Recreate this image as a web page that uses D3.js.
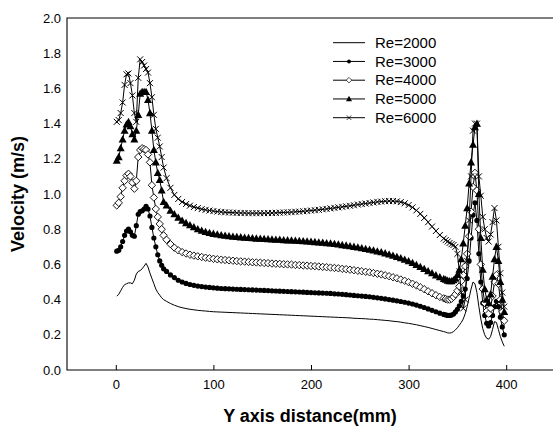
<!DOCTYPE html>
<html><head><meta charset="utf-8">
<script src="https://cdn.jsdelivr.net/npm/d3@7"></script>
<style>body{margin:0;background:#fff}svg{display:block}text{font-family:"Liberation Sans",Arial,sans-serif}</style>
</head><body><svg id="c" width="553" height="426"></svg>
<script>
const xs = [
1,3,5,7,9,11,13,15,17,19,
21,23,25,27,29,31,33,35,37,39,
41,43,45,47,49,
52,56,60,64,68,72,76,80,84,88,
92,96,100,104,108,112,116,120,124,128,
132,136,140,144,148,152,156,160,164,168,
172,176,180,184,188,192,196,200,204,208,
212,216,220,224,228,232,236,240,244,248,
252,256,260,264,268,272,276,280,284,288,
292,296,300,304,308,312,316,320,324,328,332,336,
338,340,342,344,346,348,350,352,354,356,
358,360,362,364,366,368,370,372,374,376,
378,380,382,384,386,388,390,392,394,396,
398];
const re2000 = [
0.42,0.43,0.45,0.47,0.485,0.49,0.495,0.495,0.49,0.51,
0.545,0.56,0.565,0.575,0.59,0.606,0.585,0.55,0.52,0.49,
0.46,0.44,0.425,0.41,0.40,
0.39,0.378,0.368,0.36,0.354,0.349,0.345,0.342,0.339,0.337,
0.335,0.333,0.331,0.33,0.329,0.328,0.327,0.326,0.325,0.324,
0.323,0.322,0.321,0.32,0.319,0.318,0.317,0.316,0.315,0.314,
0.313,0.312,0.311,0.31,0.309,0.308,0.307,0.306,0.305,0.304,
0.303,0.302,0.301,0.3,0.299,0.298,0.297,0.296,0.294,0.293,
0.292,0.291,0.289,0.288,0.286,0.284,0.282,0.28,0.277,0.275,
0.272,0.268,0.265,0.261,0.257,0.252,0.247,0.242,0.236,0.23,0.224,0.218,
0.215,0.211,0.21,0.212,0.218,0.228,0.24,0.255,0.27,0.29,
0.32,0.36,0.41,0.46,0.50,0.49,0.44,0.36,0.29,0.235,
0.2,0.18,0.175,0.19,0.23,0.275,0.27,0.23,0.19,0.16,
0.135];
const re3000 = [
0.675,0.68,0.70,0.73,0.765,0.79,0.80,0.785,0.765,0.76,
0.82,0.885,0.90,0.905,0.915,0.93,0.915,0.875,0.81,0.75,
0.70,0.655,0.62,0.595,0.575,
0.56,0.54,0.525,0.51,0.50,0.492,0.486,0.481,0.477,0.474,
0.471,0.469,0.467,0.465,0.463,0.462,0.461,0.46,0.459,0.458,
0.457,0.456,0.455,0.454,0.453,0.452,0.451,0.45,0.449,0.448,
0.447,0.446,0.445,0.444,0.443,0.442,0.441,0.44,0.439,0.438,
0.437,0.436,0.435,0.433,0.432,0.43,0.428,0.426,0.424,0.422,
0.42,0.418,0.416,0.413,0.41,0.407,0.404,0.40,0.397,0.393,
0.389,0.385,0.38,0.375,0.369,0.362,0.355,0.347,0.339,0.331,0.323,0.316,
0.313,0.31,0.31,0.312,0.318,0.33,0.345,0.365,0.39,0.42,
0.46,0.52,0.62,0.75,0.88,0.95,0.85,0.66,0.5,0.38,
0.31,0.265,0.25,0.27,0.31,0.36,0.39,0.36,0.3,0.245,
0.2];
const re4000 = [
0.935,0.95,0.985,1.035,1.075,1.105,1.115,1.10,1.065,1.03,
1.075,1.21,1.25,1.26,1.255,1.25,1.225,1.18,1.05,0.98,
0.915,0.87,0.83,0.80,0.765,
0.74,0.715,0.695,0.68,0.67,0.662,0.655,0.65,0.646,0.642,
0.638,0.635,0.632,0.629,0.627,0.625,0.623,0.621,0.619,0.617,
0.616,0.614,0.612,0.611,0.61,0.608,0.607,0.605,0.604,0.603,
0.601,0.60,0.599,0.597,0.596,0.594,0.593,0.591,0.59,0.588,
0.586,0.584,0.582,0.58,0.578,0.575,0.573,0.57,0.567,0.564,
0.561,0.558,0.555,0.551,0.547,0.543,0.538,0.533,0.527,0.521,
0.514,0.507,0.499,0.49,0.481,0.47,0.459,0.447,0.436,0.425,0.415,0.407,
0.403,0.40,0.40,0.405,0.415,0.43,0.45,0.475,0.505,0.54,
0.59,0.66,0.76,0.9,1.04,1.12,1.02,0.8,0.6,0.46,
0.38,0.335,0.32,0.35,0.42,0.5,0.54,0.49,0.4,0.33,
0.28];
const re5000 = [
1.19,1.21,1.26,1.31,1.36,1.395,1.41,1.385,1.34,1.31,
1.36,1.45,1.57,1.58,1.58,1.58,1.535,1.46,1.36,1.25,
1.18,1.12,1.08,1.02,0.955,
0.935,0.905,0.885,0.865,0.848,0.835,0.823,0.812,0.80,0.792,
0.785,0.779,0.774,0.77,0.766,0.763,0.76,0.758,0.756,0.754,
0.752,0.75,0.749,0.747,0.746,0.745,0.743,0.742,0.741,0.74,
0.738,0.737,0.736,0.735,0.733,0.732,0.73,0.729,0.727,0.725,
0.723,0.721,0.719,0.716,0.713,0.71,0.707,0.704,0.70,0.696,
0.692,0.688,0.684,0.679,0.674,0.669,0.663,0.657,0.65,0.643,
0.635,0.627,0.618,0.608,0.597,0.586,0.574,0.562,0.55,0.538,0.527,0.518,
0.513,0.508,0.505,0.505,0.51,0.52,0.54,0.57,0.63,0.72,
0.82,0.92,1.06,1.18,1.28,1.38,1.40,1.0,0.75,0.57,
0.46,0.40,0.38,0.43,0.53,0.63,0.70,0.62,0.5,0.4,
0.33];
const re6000 = [
1.41,1.42,1.46,1.52,1.62,1.68,1.685,1.63,1.56,1.46,
1.41,1.66,1.765,1.75,1.73,1.71,1.69,1.63,1.55,1.45,
1.37,1.32,1.27,1.21,1.15,
1.09,1.035,0.995,0.972,0.955,0.943,0.934,0.926,0.92,0.914,
0.91,0.906,0.903,0.90,0.898,0.896,0.895,0.894,0.893,0.892,
0.892,0.891,0.891,0.891,0.891,0.891,0.892,0.892,0.893,0.894,
0.895,0.896,0.897,0.899,0.90,0.902,0.904,0.906,0.908,0.91,
0.913,0.915,0.918,0.921,0.924,0.927,0.93,0.933,0.936,0.94,
0.943,0.946,0.949,0.952,0.955,0.957,0.959,0.96,0.96,0.958,
0.954,0.947,0.937,0.924,0.907,0.887,0.864,0.84,0.815,0.79,0.767,0.747,
0.738,0.73,0.722,0.715,0.71,0.70,0.66,0.56,0.44,0.35,
0.40,0.62,0.85,1.1,1.36,1.40,1.40,1.10,0.99,0.87,
0.80,0.75,0.73,0.77,0.84,0.92,0.85,0.7,0.55,0.44,
0.36];
const seriesNames = ["Re=2000","Re=3000","Re=4000","Re=5000","Re=6000"];
const xTicks = [0,100,200,300,400];
const yTicks = [0,0.2,0.4,0.6,0.8,1.0,1.2,1.4,1.6,1.8,2.0];

const seriesValues = [re2000, re3000, re4000, re5000, re6000];
const markerKinds = ["none","dot","diamond","triangle","cross"];

const svg = d3.select("#c");
const x = d3.scaleLinear().domain([-50,450]).range([67,555]);
const y = d3.scaleLinear().domain([0,2]).range([370,18]);

function markerPath(kind){
  if(kind==="diamond") return "M0,-3.7L3.7,0L0,3.7L-3.7,0Z";
  if(kind==="triangle") return "M0,-4.2L4,3.1L-4,3.1Z";
  if(kind==="cross") return "M-3,-3L3,3M-3,3L3,-3";
  if(kind==="dot") return d3.symbol(d3.symbolCircle, 21)();
  return null;
}
function styleMarker(sel, kind){
  if(kind==="diamond") sel.attr("fill","#fff").attr("stroke","#000").attr("stroke-width",0.9);
  else if(kind==="cross") sel.attr("fill","none").attr("stroke","#000").attr("stroke-width",1);
  else sel.attr("fill","#000").attr("stroke","none");
}

// axes
const xAxis = d3.axisBottom(x).tickValues(xTicks).tickSizeInner(-5).tickSizeOuter(0).tickPadding(10).tickFormat(d3.format("d"));
const gx = svg.append("g").attr("transform","translate(0,370)").call(xAxis);
gx.select(".domain").remove();
gx.selectAll("text").attr("font-size",13).attr("fill","#000").style("font-family",'"Liberation Sans",Arial,sans-serif');
gx.selectAll("line").attr("stroke","#000");

const yAxis = d3.axisLeft(y).tickValues(yTicks).tickSize(0).tickPadding(6).tickFormat(d3.format(".1f"));
const gy = svg.append("g").attr("transform","translate(67,0)").call(yAxis);
gy.select(".domain").remove();
gy.selectAll("text").attr("font-size",13).attr("fill","#000").style("font-family",'"Liberation Sans",Arial,sans-serif');

// frame
svg.append("path").attr("d",`M${x.range()[1]},${y(2)}H${x.range()[0]}V${y(0)}H${x.range()[1]}`)
  .attr("fill","none").attr("stroke","#000").attr("stroke-width",1.1);

// titles
svg.append("text").attr("x",310).attr("y",422).attr("text-anchor","middle")
  .attr("font-size",18).attr("font-weight","bold").text("Y axis distance(mm)");
svg.append("text").attr("transform",`translate(24,${(y(0)+y(2))/2}) rotate(-90)`).attr("text-anchor","middle")
  .attr("font-size",18).attr("font-weight","bold").text("Velocity (m/s)");

// series
const line = d3.line().x((d,i)=>x(xs[i])).y(d=>y(d));
seriesValues.forEach((vals,si)=>{
  const kind = markerKinds[si];
  const g = svg.append("g");
  g.append("path").attr("d",line(vals)).attr("fill","none").attr("stroke","#000").attr("stroke-width",1);
  if(kind!=="none"){
    const p = markerPath(kind);
    const m = g.selectAll("path.m").data(vals).join("path").attr("class","m")
      .attr("d",p).attr("transform",(d,i)=>`translate(${x(xs[i])},${y(d)})`);
    styleMarker(m, kind);
  }
});

// legend
const lg = svg.append("g");
seriesNames.forEach((name,i)=>{
  const yy = 42.7 + i*18.75;
  lg.append("line").attr("x1",333).attr("x2",365).attr("y1",yy).attr("y2",yy).attr("stroke","#000").attr("stroke-width",1);
  const kind = markerKinds[i];
  if(kind!=="none"){
    const m = lg.append("path").attr("d",markerPath(kind)).attr("transform",`translate(349,${yy}) scale(0.75)`);
    styleMarker(m, kind);
  }
  lg.append("text").attr("x",375).attr("y",yy).attr("dy","0.35em").attr("font-size",15).attr("fill","#000").text(name);
});
</script></body></html>
